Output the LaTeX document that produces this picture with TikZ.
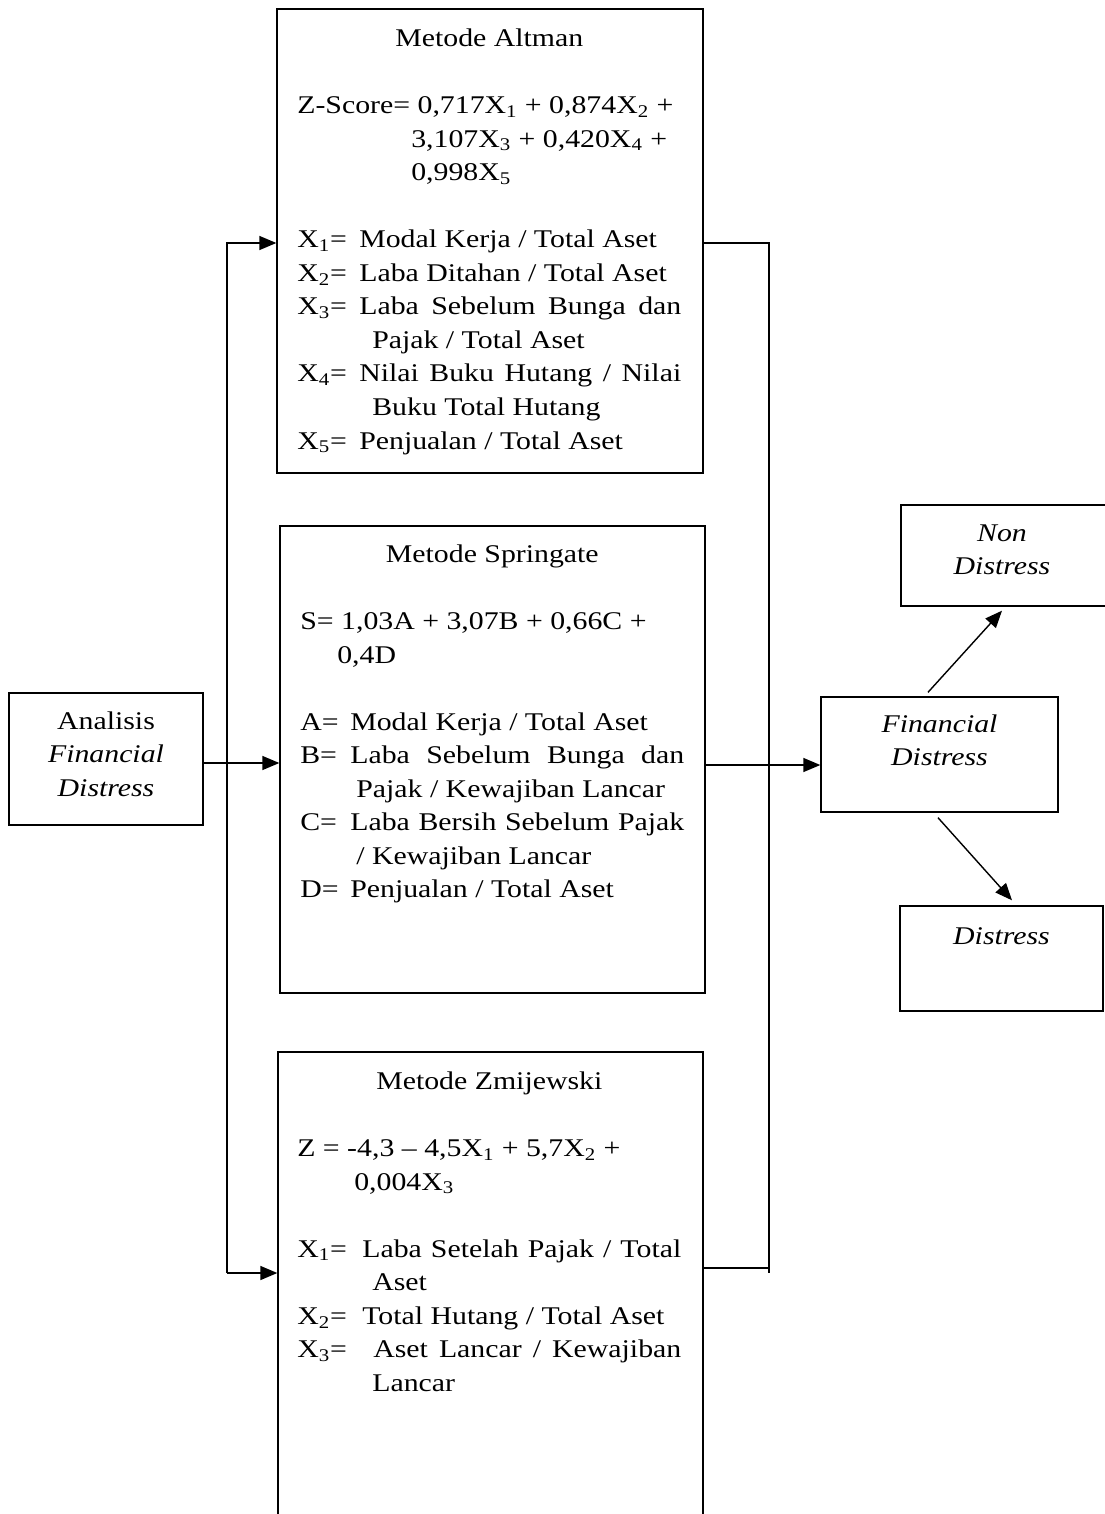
\documentclass[tikz,border=0pt]{standalone}
\usepackage{fontspec}
\setmainfont[FakeStretch=1.17]{Liberation Serif}
\usetikzlibrary{arrows.meta, positioning, calc}

\newcommand{\Xs}[1]{X\textsubscript{#1}}
\newcommand{\just}[1]{\makebox[7.68cm][s]{#1}}
\newcommand{\judul}[1]{\rule{0pt}{0.4cm}\makebox[7.68cm]{#1}}
\newcommand{\lbl}[2]{\makebox[#1][l]{#2}}

\begin{document}
\begin{tikzpicture}[
    x=0.02cm, y=-0.02cm, % 1 unit = 1 px, y grows downwards
    box/.style={draw, line width=0.8pt, inner sep=0pt},
    body/.style={inner sep=0pt, outer sep=0pt, align=left,
        font=\fontsize{14.5}{19.1}\selectfont},
    ctext/.style={inner sep=0pt, outer sep=0pt, align=center,
        font=\fontsize{14.5}{19.1}\selectfont},
    arrow/.style={line width=0.8pt, -{Triangle[length=0.34cm, width=0.28cm]}},
    wire/.style={line width=0.8pt}
]
\useasboundingbox (0,0) rectangle (1105,1514);
\clip (0,0) rectangle (1105,1514);

% ========== kotak metode ==========
\node[box, minimum width=8.52cm, minimum height=9.28cm] (altman) at (490,241) {};
\node[box, minimum width=8.5cm, minimum height=9.34cm] (springate) at (492.5,759.5) {};
\node[box, minimum width=8.5cm, minimum height=10.96cm] (zmij) at (490.5,1326) {};

% ========== kotak kiri dan kanan ==========
\node[box, minimum width=3.88cm, minimum height=2.64cm] (analisis) at (106,759) {};
\node[box, minimum width=4.74cm, minimum height=2.3cm] (fd) at (939.5,754.5) {};
\node[box, minimum width=4.18cm, minimum height=2.02cm] (non) at (1005.5,555.5) {};
\node[box, minimum width=4.06cm, minimum height=2.1cm] (dist) at (1001.5,958.5) {};

% ========== isi kotak ==========
\node[body, below right=0.36cm and 0.42cm of altman.north west] (altmanT) {%
    \judul{Metode Altman}\\[19.1pt]
    Z-Score= 0,717\Xs{1} + 0,874\Xs{2} +\\
    \hspace*{2.28cm}3,107\Xs{3} + 0,420\Xs{4} +\\
    \hspace*{2.28cm}0,998\Xs{5}\\[19.1pt]
    \lbl{1.24cm}{\Xs{1}=}Modal Kerja / Total Aset\\
    \lbl{1.24cm}{\Xs{2}=}Laba Ditahan / Total Aset\\
    \just{\lbl{1.24cm}{\Xs{3}=}Laba Sebelum Bunga dan}\\
    \hspace*{1.5cm}Pajak / Total Aset\\
    \just{\lbl{1.24cm}{\Xs{4}=}Nilai Buku Hutang / Nilai}\\
    \hspace*{1.5cm}Buku Total Hutang\\
    \lbl{1.24cm}{\Xs{5}=}Penjualan / Total Aset};

\node[body, below right=0.34cm and 0.42cm of springate.north west] (springateT) {%
    \judul{Metode Springate}\\[19.1pt]
    S= 1,03A + 3,07B + 0,66C +\\
    \hspace*{0.74cm}0,4D\\[19.1pt]
    \lbl{1.0cm}{A=}Modal Kerja / Total Aset\\
    \just{\lbl{1.0cm}{B=}Laba Sebelum Bunga dan}\\
    \hspace*{1.12cm}Pajak / Kewajiban Lancar\\
    \just{\lbl{1.0cm}{C=}Laba Bersih Sebelum Pajak}\\
    \hspace*{1.12cm}/ Kewajiban Lancar\\
    \lbl{1.0cm}{D=}Penjualan / Total Aset};

\node[body, below right=0.36cm and 0.4cm of zmij.north west] (zmijT) {%
    \judul{Metode Zmijewski}\\[19.1pt]
    Z = -4,3 -- 4,5\Xs{1} + 5,7\Xs{2} +\\
    \hspace*{1.14cm}0,004\Xs{3}\\[19.1pt]
    \just{\lbl{1.3cm}{\Xs{1}=}Laba Setelah Pajak / Total}\\
    \hspace*{1.5cm}Aset\\
    \lbl{1.3cm}{\Xs{2}=}Total Hutang / Total Aset\\
    \just{\lbl{1.3cm}{\Xs{3}=}\ Aset Lancar / Kewajiban}\\
    \hspace*{1.5cm}Lancar};

\node[ctext, below=0.34cm of analisis.north] (analisisT)
    {\rule{0pt}{0.4cm}Analisis\\ \textit{Financial}\\ \textit{Distress}};
\node[ctext, below=0.32cm of fd.north] (fdT)
    {\rule{0pt}{0.4cm}\textit{Financial}\\ \textit{Distress}};
\node[ctext, below=0.34cm of non.north, xshift=-0.07cm] (nonT)
    {\rule{0pt}{0.4cm}\textit{Non}\\ \textit{Distress}};
\node[ctext, below=0.38cm of dist.north] (distT)
    {\rule{0pt}{0.4cm}\textit{Distress}};

% ========== garis penghubung ==========
\coordinate (lTop) at (227,243);
\coordinate (lBot) at (227,1273);
\coordinate (rTop) at (769,243);
\coordinate (rMid) at (769,1268);
\coordinate (rBot) at (769,1273);

\draw[arrow] (lBot) -- (lTop) -- (lTop -| altman.west);
\draw[arrow] (lBot) -- (lBot -| zmij.west);
\draw[wire] (altman.east |- rTop) -- (rTop) -- (rBot);
\draw[wire] (zmij.east |- rMid) -- (rMid);

\draw[arrow] ($(analisis.east)+(0,4)$) -- ($(analisis.east -| springate.west)+(0,4)$);
\draw[arrow] ($(springate.east)+(0,5.5)$) -- ($(springate.east -| fd.west)+(0,5.5)$);

% hasil
\draw[arrow] ($(fd.north)+(-11.5,-4)$) -- ($(non.south)+(-3.5,4)$);
\draw[arrow] ($(fd.south)+(-1.5,5)$) -- ($(dist.north)+(10.5,-5)$);

\end{tikzpicture}
\end{document}
